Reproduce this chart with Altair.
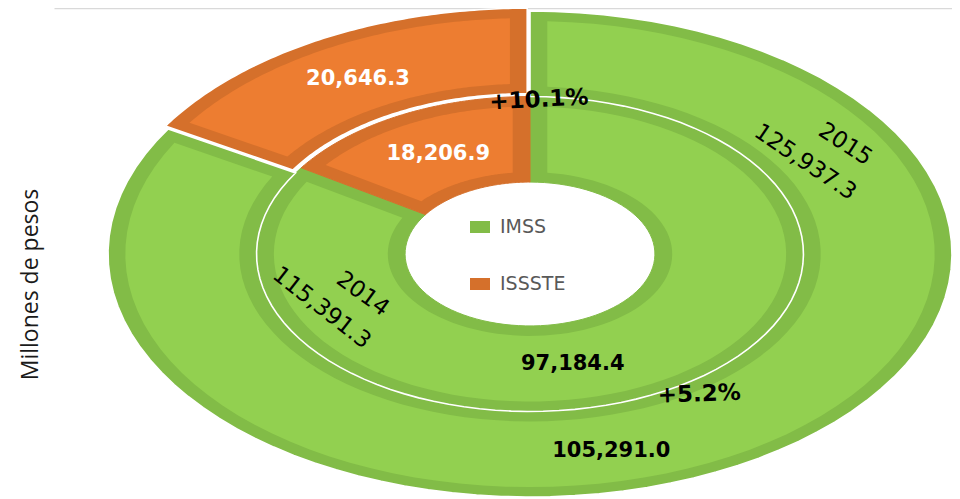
import math
import altair as alt
import pandas as pd

# ---------------- data ----------------
years = ["2014", "2015"]
categories = ["IMSS", "ISSSTE"]
imss_values = [97184.4, 105291.0]      # millones de pesos
issste_values = [18206.9, 20646.3]
growth_real = [0.052, 0.101]           # real growth 2014->2015 : IMSS, ISSSTE
y_title = "Millones de pesos"

rows = []
for ring, yr in enumerate(years):
    for k, (cat, vals) in enumerate(zip(categories, [imss_values, issste_values])):
        rows.append({"year": yr, "ring": ring, "category": cat, "order": k,
                     "value": vals[ring], "growth": growth_real[k]})
df = pd.DataFrame(rows)

# ---------------- geometry / style ----------------
HOLE = 0.296
RINGW = (1 - HOLE) / 2
BAND = 0.041
N = 90
EXPLODE = "datum.year == '2015' && datum.category == 'ISSSTE' ? 0.0134 : 0"
W, H = 898, 489
X_DOMAIN = [-1.12796, 1.0]
Y_DOMAIN = [-1.0, 1.01235]

light = {"IMSS": "#92D050", "ISSSTE": "#ED7D31"}
dark = {"IMSS": "#82BC47", "ISSSTE": "#D5702B"}

X = alt.X("x:Q", scale=alt.Scale(domain=X_DOMAIN, nice=False, zero=False),
          axis=alt.Axis(orient="top", title=None, labels=False, ticks=False, grid=False,
                        domain=True, domainColor="#D9D9D9", domainWidth=1.5))
Y = alt.Y("y:Q", scale=alt.Scale(domain=Y_DOMAIN, nice=False, zero=False),
          axis=alt.Axis(title=y_title, labels=False, ticks=False, grid=False, domain=False,
                        titleFont="Open Sans", titleFontSize=23, titleFontWeight="normal",
                        titleColor="#1a1a1a", titleAngle=270, titleX=-17, titleY=276,
                        titleBaseline="alphabetic", titleAlign="center"))

base = alt.Chart(df)


def slices(ch):
    return (ch.transform_joinaggregate(total="sum(value)", groupby=["year"])
              .transform_window(cum="sum(value)", sort=[alt.SortField("order", order="ascending")],
                                groupby=["year"])
              .transform_calculate(
                  a0="2 * PI * (datum.cum - datum.value) / datum.total",
                  a1="2 * PI * datum.cum / datum.total")
              .transform_calculate(
                  mid="(datum.a0 + datum.a1) / 2",
                  rin=f"{HOLE} + datum.ring * {RINGW}",
                  ex=EXPLODE)
              .transform_calculate(rout=f"datum.rin + {RINGW}"))


def polygon(ch, d):
    return (slices(ch)
            .transform_calculate(idx=f"sequence(0, {2 * N + 3})")
            .transform_flatten(["idx"])
            .transform_calculate(
                isout=f"datum.idx <= {N} || datum.idx >= {2 * N + 2}",
                t=f"datum.idx <= {N} ? datum.idx / {N} : (datum.idx >= {2 * N + 2} ? 0 : ({2 * N + 1} - datum.idx) / {N})")
            .transform_calculate(r=f"datum.isout ? datum.rout - {d} : datum.rin + {d}")
            .transform_calculate(dl=f"asin(min(1, {d} / datum.r))")
            .transform_calculate(ang="datum.a0 + datum.dl + (datum.a1 - datum.a0 - 2 * datum.dl) * datum.t")
            .transform_calculate(
                x="datum.r * sin(datum.ang) + datum.ex * sin(datum.mid)",
                y="datum.r * cos(datum.ang) + datum.ex * cos(datum.mid)"))


def cond(colors):
    return alt.condition("datum.category == 'IMSS'", alt.value(colors["IMSS"]), alt.value(colors["ISSSTE"]))


inner_dark = polygon(base, 0).transform_filter("datum.ring == 0").mark_line(strokeWidth=1).encode(
    x=X, y=Y, order="idx:Q", detail=["year:N", "category:N"],
    stroke=cond(dark),
    fill=alt.Fill("category:N",
                  scale=alt.Scale(domain=categories, range=[dark["IMSS"], dark["ISSSTE"]]),
                  legend=alt.Legend(title=None, orient="none", legendX=416, legendY=209,
                                    direction="vertical", symbolType="M-1,-0.6H1V0.6H-1Z",
                                    symbolSize=400, symbolStrokeWidth=0, symbolOpacity=1,
                                    labelFont="DejaVu Sans", labelFontSize=19, labelColor="#595959",
                                    labelOffset=10, rowPadding=37, padding=0)))

outer_dark = polygon(base, 0).transform_filter("datum.ring == 1").mark_line(
    stroke="white", strokeWidth=1.6).encode(
    x=X, y=Y, order="idx:Q", detail=["year:N", "category:N"], fill=cond(dark))

light_poly = polygon(base, BAND).mark_line(strokeWidth=0).encode(
    x=X, y=Y, order="idx:Q", detail=["year:N", "category:N"], fill=cond(light))

anchors = slices(base).transform_calculate(rm="(datum.rin + datum.rout) / 2").transform_calculate(
    x="(datum.rm + datum.ex) * sin(datum.mid)",
    y="(datum.rm + datum.ex) * cos(datum.mid)")


def rot(ox, oy, ang):
    t = math.radians(ang)
    return ox * math.cos(t) + oy * math.sin(t), -ox * math.sin(t) + oy * math.cos(t)


# label style: (year, category, text channel, font size, weight, color, angle, screen offset)
label_specs = [
    ("2015", "ISSSTE", alt.Text("value:Q", format=",.1f"), 21, "bold", "white", 0, (2, 2)),
    ("2014", "ISSSTE", alt.Text("value:Q", format=",.1f"), 21, "bold", "white", 0, (3, 1)),
    ("2014", "IMSS", alt.Text("value:Q", format=",.1f"), 21, "bold", "black", 0, (-52, 9)),
    ("2015", "IMSS", alt.Text("value:Q", format=",.1f"), 21, "bold", "black", 0, (-90, 23)),
    ("2015", "ISSSTE", alt.Text("growth:Q", format="+.1%"), 23, "bold", "black", 357, (183, 23)),
    ("2015", "IMSS", alt.Text("growth:Q", format="+.1%"), 23, "bold", "black", 358, (-2, -34)),
    ("2015", "IMSS", alt.Text("year:N"), 23, "normal", "black", 33, (144, -284)),
    ("2015", "IMSS", alt.Text("total:Q", format=",.1f"), 23, "normal", "black", 34, (104, -266)),
    ("2014", "IMSS", alt.Text("year:N"), 23, "normal", "black", 36, (-262, -61)),
    ("2014", "IMSS", alt.Text("total:Q", format=",.1f"), 23, "normal", "black", 38, (-303, -47)),
]

label_layers = []
for yr, cat, txt, size, weight, color, ang, (ox, oy) in label_specs:
    dx, dy = rot(ox, oy, ang)
    label_layers.append(
        anchors.transform_filter(f"datum.year == '{yr}' && datum.category == '{cat}'")
        .mark_text(font="DejaVu Sans", fontSize=size, fontWeight=weight, color=color,
                   angle=ang, align="center", baseline="middle", dx=dx, dy=dy)
        .encode(x=X, y=Y, text=txt))

chart = alt.layer(inner_dark, outer_dark, light_poly, *label_layers).properties(
    width=W, height=H,
    padding={"left": 46, "top": 0, "right": 0, "bottom": 2},
    autosize=alt.AutoSizeParams(type="none"),
    background="white",
).configure_view(strokeWidth=0)

chart.save("out.html", embed_options={"renderer": "svg", "actions": False})
